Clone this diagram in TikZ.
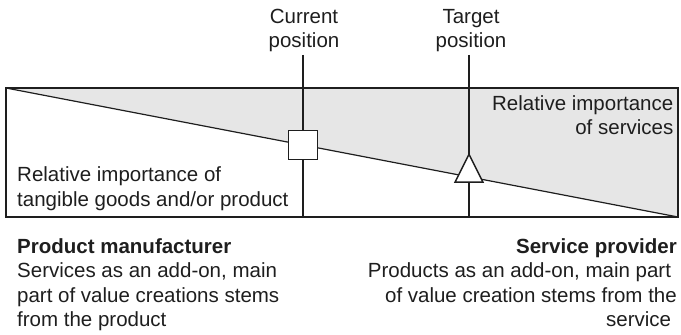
\documentclass[tikz,border=0pt]{standalone}
\usepackage{fontspec}
\setmainfont{Liberation Sans}
\usepackage{xcolor}
\usetikzlibrary{shapes.geometric, positioning}
\definecolor{servgray}{RGB}{230, 230, 230}
\definecolor{inkgray}{RGB}{30, 30, 30}

\begin{document}
\begin{tikzpicture}[
  x=1pt, y=1pt,
  label/.style={inner sep=0pt, text=inkgray, font=\fontsize{20.5}{24.5}\selectfont},
  frame/.style={draw=inkgray, line width=1.2pt},
  marker/.style={draw=inkgray, fill=white, line width=1.5pt, inner sep=0pt}
]
  \useasboundingbox (0,0) rectangle (681,335);

  % Corners of the box
  \coordinate (tl) at (6,247);
  \coordinate (tr) at (678,247);
  \coordinate (br) at (678,118);
  \coordinate (bl) at (6,118);

  % Services share
  \fill[servgray] (tl) -- (tr) -- (br) -- cycle;
  \draw[frame] (tl) -- (tr) -- (br) -- (bl) -- cycle;
  \draw[frame] (tl) -- (br);

  % Positions
  \coordinate (curtop) at (303,280);
  \coordinate (curbot) at (303,118);
  \coordinate (tgttop) at (469,280);
  \coordinate (tgtbot) at (469,118);
  \draw[frame] (curtop) -- (curbot);
  \draw[frame] (tgttop) -- (tgtbot);

  \node[marker, rectangle, minimum size=29pt] (current) at (303,190) {};
  \node[marker, isosceles triangle, isosceles triangle stretches, shape border rotate=90,
        minimum width=28pt, minimum height=28pt, anchor=south] (target) at (469,152) {};

  % Labels (base = last line)
  \node[label, align=center, anchor=base] (curlabel) at (304,287) {Current\\position};
  \node[label, align=center, anchor=base] (tgtlabel) at (471,287) {Target\\position};
  \node[label, align=right, anchor=base east] (servlabel) at (673.5,200) {Relative importance\\of services};
  \node[label, align=left, anchor=base west] (goodlabel) at (17,128.5) {Relative importance of\\tangible goods and/or product};

  \node[label, align=left, anchor=base west] (manuf) at (17,8.5)
    {\textbf{Product manufacturer}\\Services as an add-on, main\\part of value creations stems\\from the product};
  \node[label, align=right, anchor=base east] (provider) at (677,8.5)
    {\textbf{Service provider}\\Products as an add-on, main part\kern.28em\\of value creation stems from the\\service\kern.28em};
\end{tikzpicture}
\end{document}
